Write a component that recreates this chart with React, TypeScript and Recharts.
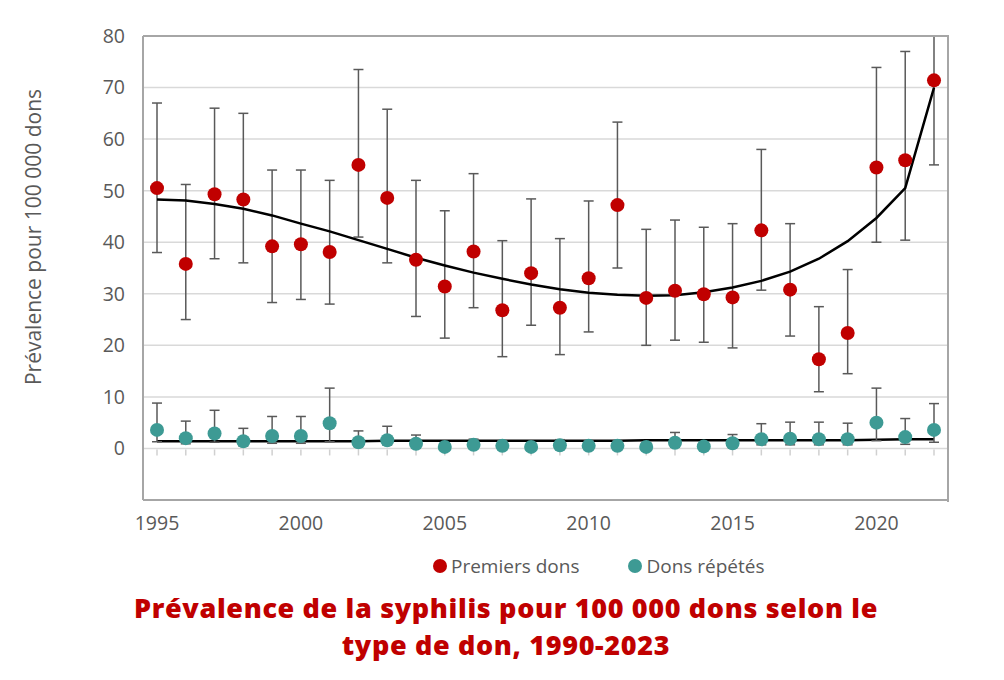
import React from "react";
import {
  ComposedChart,
  Line,
  Scatter,
  ErrorBar,
  XAxis,
  YAxis,
  CartesianGrid,
} from "recharts";

const years = [
  1995, 1996, 1997, 1998, 1999, 2000, 2001, 2002, 2003, 2004, 2005, 2006, 2007, 2008,
  2009, 2010, 2011, 2012, 2013, 2014, 2015, 2016, 2017, 2018, 2019, 2020, 2021, 2022,
];

// premiers dons
const premiers = [
  50.5, 35.8, 49.3, 48.3, 39.2, 39.6, 38.1, 55.0, 48.6, 36.6, 31.4, 38.2, 26.8, 34.0,
  27.3, 33.0, 47.2, 29.2, 30.6, 29.9, 29.3, 42.3, 30.8, 17.3, 22.4, 54.5, 55.9, 71.4,
];
const premiersLow = [
  38.0, 25.0, 36.8, 36.0, 28.3, 28.9, 28.0, 41.0, 36.0, 25.6, 21.4, 27.3, 17.8, 23.9,
  18.2, 22.6, 35.0, 20.0, 21.0, 20.6, 19.5, 30.7, 21.8, 11.0, 14.5, 40.0, 40.4, 55.0,
];
// 2022 upper bound runs off the top of the chart
const premiersHigh = [
  67.0, 51.2, 66.0, 65.0, 54.0, 54.0, 52.0, 73.5, 65.8, 52.0, 46.1, 53.3, 40.3, 48.4,
  40.7, 48.0, 63.3, 42.5, 44.3, 42.9, 43.6, 58.0, 43.6, 27.5, 34.7, 73.9, 77.0, 80.0,
];
const premiersTrend = [
  48.3, 48.1, 47.4, 46.5, 45.2, 43.6, 42.1, 40.4, 38.7, 37.0, 35.5, 34.1, 32.9, 31.8,
  30.9, 30.2, 29.8, 29.6, 29.7, 30.3, 31.2, 32.5, 34.3, 36.8, 40.2, 44.7, 50.5, 70.0,
];

// dons répétés
const repetes = [
  3.6, 2.0, 2.9, 1.4, 2.4, 2.4, 4.9, 1.2, 1.6, 0.9, 0.3, 0.7, 0.5, 0.3,
  0.6, 0.5, 0.5, 0.3, 1.1, 0.4, 1.0, 1.8, 1.9, 1.8, 1.8, 5.0, 2.2, 3.6,
];
const repetesLow = [
  1.3, 0.9, 1.2, 0.5, 1.0, 1.0, 1.3, 0.4, 0.7, 0.3, 0.0, 0.2, 0.1, 0.0,
  0.1, 0.1, 0.1, 0.0, 0.3, 0.1, 0.3, 0.7, 0.7, 0.7, 0.7, 1.5, 0.8, 1.2,
];
const repetesHigh = [
  8.8, 5.3, 7.4, 3.9, 6.2, 6.2, 11.7, 3.4, 4.3, 2.6, 1.0, 1.8, 1.5, 1.0,
  1.7, 1.5, 1.5, 1.0, 3.1, 1.2, 2.7, 4.8, 5.1, 5.1, 4.9, 11.7, 5.8, 8.7,
];
const repetesTrend = [
  1.4, 1.4, 1.4, 1.4, 1.4, 1.4, 1.4, 1.4, 1.5, 1.5, 1.5, 1.5, 1.5, 1.5,
  1.5, 1.5, 1.5, 1.6, 1.6, 1.6, 1.6, 1.6, 1.6, 1.6, 1.6, 1.7, 1.8, 1.8,
];

const yTicks = [0, 10, 20, 30, 40, 50, 60, 70, 80];

const RED = "#C00000";
const TEAL = "#3D9A94";
const GREY_TEXT = "#595959";
const BORDER = "#a6a6a6";
const FONT = "'Open Sans', sans-serif";

const data = years.map((y, i) => ({
  year: y,
  zero: 0,
  premiers: premiers[i],
  premiersErr: [premiers[i] - premiersLow[i], premiersHigh[i] - premiers[i]],
  premiersTrend: premiersTrend[i],
  repetes: repetes[i],
  repetesErr: [repetes[i] - repetesLow[i], repetesHigh[i] - repetes[i]],
  repetesTrend: repetesTrend[i],
}));

const dot = (color: string) => (p: any) =>
  <circle cx={p.cx} cy={p.cy} r={7} fill={color} />;

const tickMark = (p: any) =>
  <line x1={p.cx} x2={p.cx} y1={p.cy + 1} y2={p.cy + 7} stroke="#d0d0d0" strokeWidth={1.5} />;

const App: React.FC = () => {
  return (
    <div style={{ position: "absolute", left: 0, top: 0, width: 1004, height: 680, background: "#fff", fontFamily: FONT }}>
      <ComposedChart
        width={1004}
        height={680}
        data={data}
        margin={{ top: 36, right: 56, bottom: 140, left: 0 }}
      >
        <CartesianGrid vertical={false} stroke="#d9d9d9" strokeWidth={1.5} />
        <XAxis
          dataKey="year"
          type="category"
          interval={4}
          padding={{ left: 14, right: 14 }}
          height={40}
          tickLine={false}
          tickSize={0}
          tickMargin={16}
          axisLine={{ stroke: BORDER, strokeWidth: 2 }}
          tick={{ fill: GREY_TEXT, fontSize: 19.5, fontFamily: FONT }}
        />
        <YAxis
          type="number"
          domain={[-10, 80]}
          ticks={yTicks}
          allowDataOverflow
          width={143}
          tickLine={false}
          tickSize={0}
          tickMargin={18}
          axisLine={{ stroke: BORDER, strokeWidth: 2 }}
          tick={{ fill: GREY_TEXT, fontSize: 19.5, fontFamily: FONT }}
        />
        <Scatter dataKey="zero" shape={tickMark} legendType="none" isAnimationActive={false} />
        <Line dataKey="repetesTrend" type="linear" stroke="#000" strokeWidth={2.5} dot={false} isAnimationActive={false} />
        <Scatter dataKey="premiers" shape={dot(RED)} isAnimationActive={false}>
          <ErrorBar dataKey="premiersErr" direction="y" width={5} stroke="#595959" strokeWidth={1.5} />
        </Scatter>
        <Scatter dataKey="repetes" shape={dot(TEAL)} isAnimationActive={false}>
          <ErrorBar dataKey="repetesErr" direction="y" width={5} stroke="#595959" strokeWidth={1.5} />
        </Scatter>
        <Line dataKey="premiersTrend" type="linear" stroke="#000" strokeWidth={2.5} dot={false} isAnimationActive={false} />
      </ComposedChart>

      {/* top and right edges of the plot frame */}
      <div
        style={{
          position: "absolute",
          left: 143,
          top: 35,
          width: 804,
          height: 465,
          borderTop: `2px solid ${BORDER}`,
          borderRight: `2px solid ${BORDER}`,
          pointerEvents: "none",
        }}
      />

      <div
        style={{
          position: "absolute",
          left: 33,
          top: 237,
          transform: "translate(-50%, -50%) rotate(-90deg)",
          whiteSpace: "nowrap",
          fontSize: 21,
          color: GREY_TEXT,
        }}
      >
        Prévalence pour 100 000 dons
      </div>

      <div style={{ position: "absolute", left: 433, top: 553, display: "flex", gap: 49, fontSize: 19, color: GREY_TEXT, whiteSpace: "nowrap" }}>
        <span style={{ display: "flex", alignItems: "center" }}>
          <span style={{ width: 14, height: 14, borderRadius: "50%", background: RED, marginRight: 4 }} />
          Premiers dons
        </span>
        <span style={{ display: "flex", alignItems: "center" }}>
          <span style={{ width: 14, height: 14, borderRadius: "50%", background: TEAL, marginRight: 4 }} />
          Dons répétés
        </span>
      </div>

      <div
        style={{
          position: "absolute",
          left: 0,
          width: 1012,
          top: 589,
          textAlign: "center",
          color: RED,
          fontFamily: "'Open Sans', Roboto, sans-serif",
          fontWeight: 800,
          fontSize: 27,
          lineHeight: "37px",
          letterSpacing: 0.65,
        }}
      >
        Prévalence de la syphilis pour 100 000 dons selon le
        <br />
        type de don, 1990-2023
      </div>
    </div>
  );
};

export default App;
